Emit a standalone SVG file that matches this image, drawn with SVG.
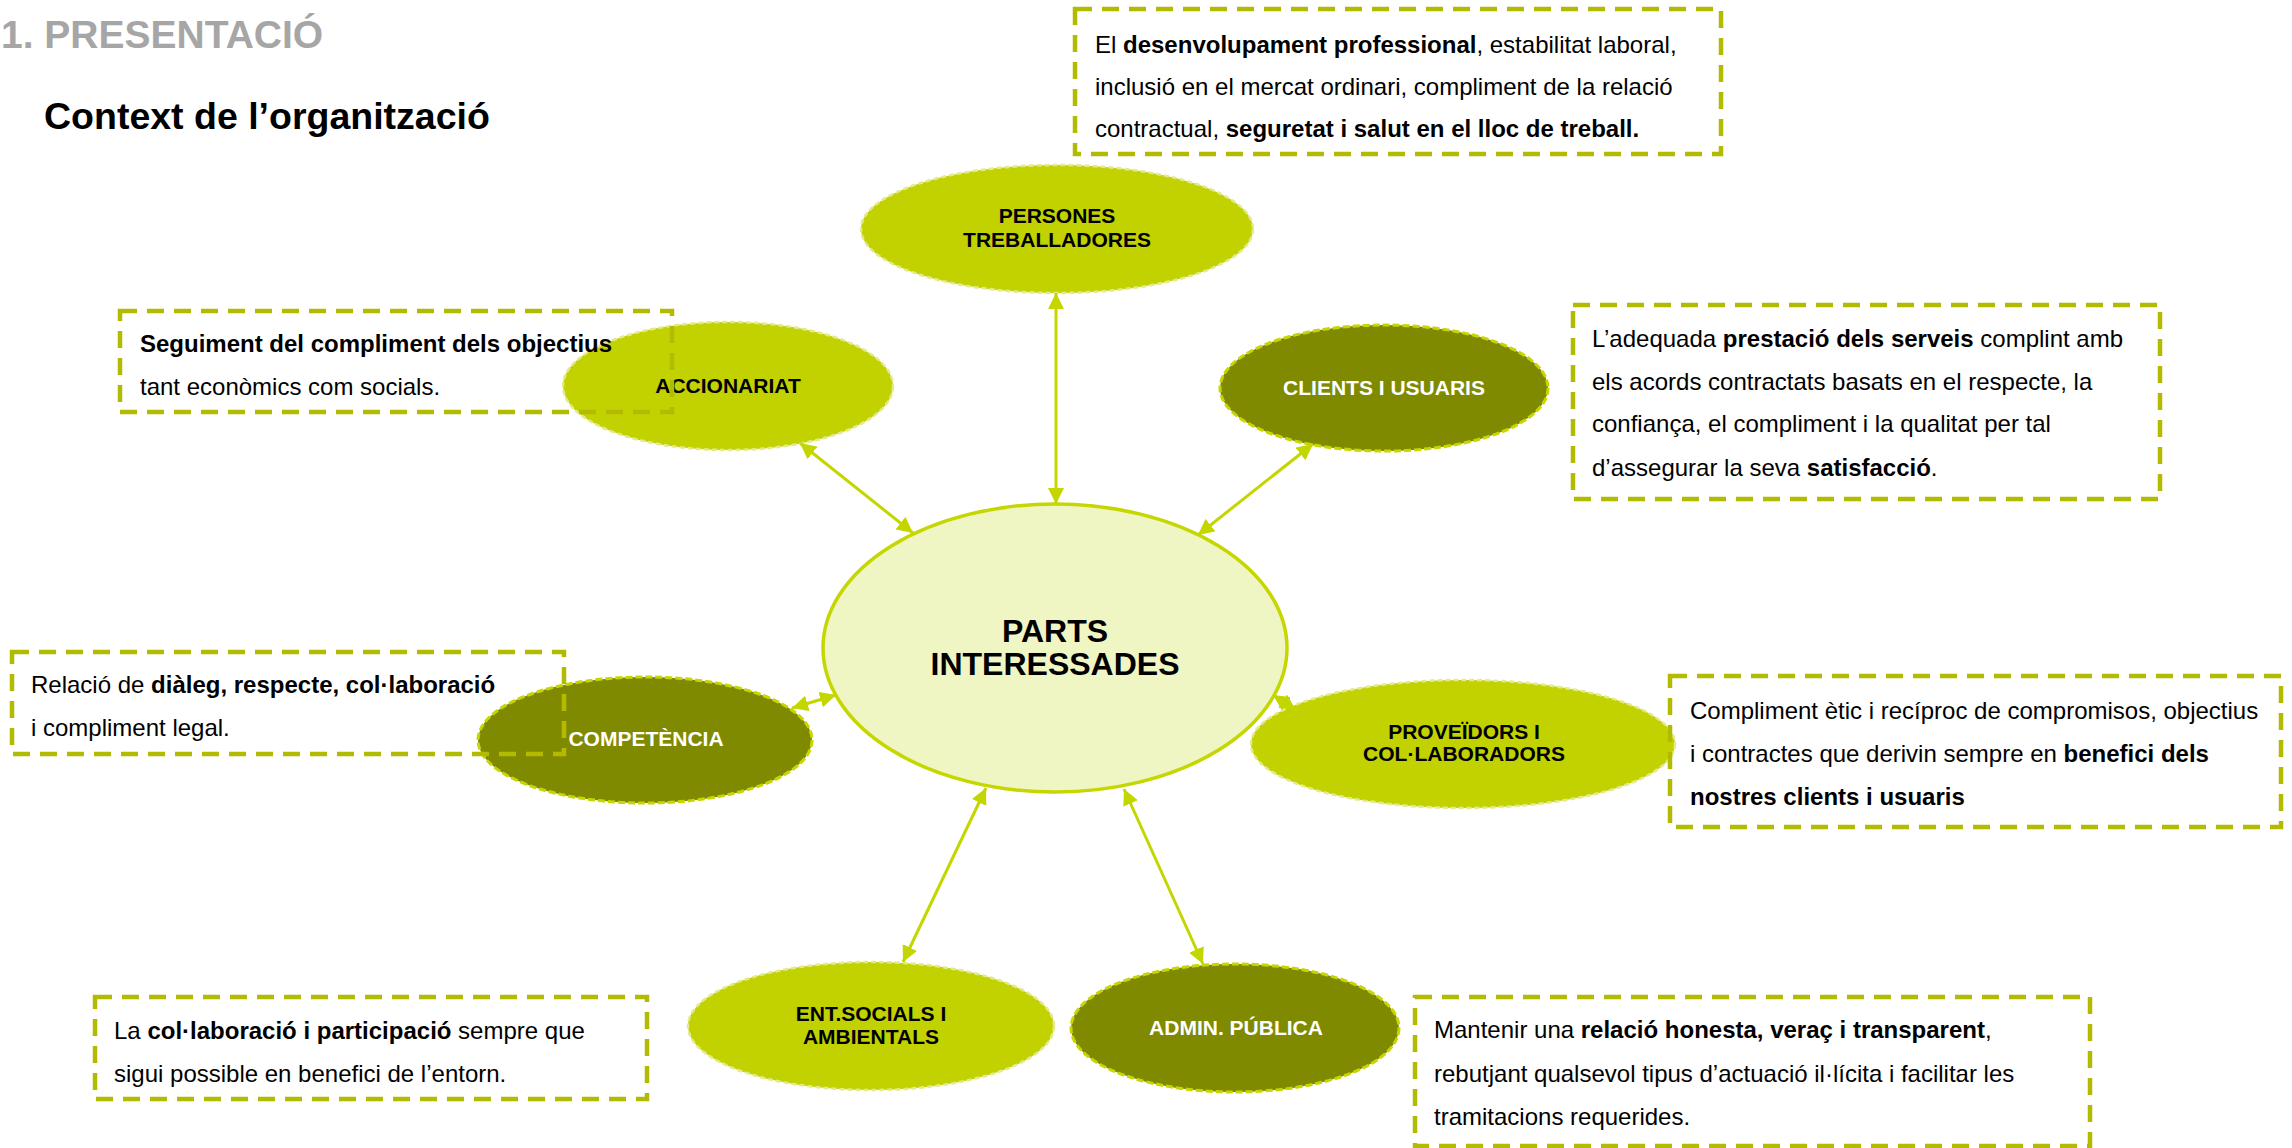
<svg xmlns="http://www.w3.org/2000/svg" width="2292" height="1148" viewBox="0 0 2292 1148">
<defs>
<style>
text{font-family:"Liberation Sans",Arial,sans-serif}
.title{font-size:39px;font-weight:bold;fill:#a6a6a6}
.sub{font-size:37.5px;font-weight:bold;fill:#000}
.lt{fill:#c2d100;stroke:#e2ea8a;stroke-width:2.5;stroke-dasharray:5 3}
.dk{fill:#7f8a00;stroke:#c8d600;stroke-width:3;stroke-dasharray:7 3}
.center{fill:#eff5c3;stroke:#c6d600;stroke-width:3.5}
.nl{font-size:21px;font-weight:bold;fill:#000;text-anchor:middle}
.nd{font-size:21px;font-weight:bold;fill:#fff;text-anchor:middle}
.nc{font-size:32px;font-weight:bold;fill:#000;text-anchor:middle}
.box{fill:none;stroke:#b3bb00;stroke-width:4.5;stroke-dasharray:17 10}
.bt{font-size:24px;fill:#000}
.b{font-weight:bold}
.conn{stroke:#c4d600;stroke-width:3;fill:none;marker-start:url(#ah);marker-end:url(#ah)}
</style>
<marker id="ah" markerUnits="userSpaceOnUse" markerWidth="16" markerHeight="16" viewBox="0 0 16 16" refX="16" refY="8" orient="auto-start-reverse">
<path d="M0,0 L16,8 L0,16 z" fill="#c4d600"/>
</marker>
</defs>
<rect width="2292" height="1148" fill="#fff"/>
<text class="title" x="1" y="48">1. PRESENTACIÓ</text>
<text class="sub" x="44" y="129">Context de l’organització</text>

<g id="node-parts">
<ellipse class="center" cx="1055" cy="648" rx="232" ry="144"/>
<text class="nc" x="1055" y="642">PARTS</text>
<text class="nc" x="1055" y="675">INTERESSADES</text>
</g>
<g id="node-persones">
<ellipse class="lt" cx="1057" cy="229" rx="196" ry="64"/>
<text class="nl" x="1057" y="223">PERSONES</text>
<text class="nl" x="1057" y="247">TREBALLADORES</text>
</g>
<g id="node-accionariat">
<ellipse class="lt" cx="728" cy="386" rx="165" ry="64"/>
<text class="nl" x="728" y="393">ACCIONARIAT</text>
</g>
<g id="node-clients">
<ellipse class="dk" cx="1384" cy="388" rx="164" ry="63"/>
<text class="nd" x="1384" y="395">CLIENTS I USUARIS</text>
</g>
<g id="node-competencia">
<ellipse class="dk" cx="645" cy="740" rx="167" ry="63"/>
<text class="nd" x="646" y="746">COMPETÈNCIA</text>
</g>
<g id="node-proveidors">
<ellipse class="lt" cx="1463" cy="744" rx="212" ry="64"/>
<text class="nl" x="1464" y="739">PROVEÏDORS I</text>
<text class="nl" x="1464" y="761">COL·LABORADORS</text>
</g>
<g id="node-ent">
<ellipse class="lt" cx="871" cy="1026" rx="183" ry="64"/>
<text class="nl" x="871" y="1021">ENT.SOCIALS I</text>
<text class="nl" x="871" y="1044">AMBIENTALS</text>
</g>
<g id="node-admin">
<ellipse class="dk" cx="1235" cy="1028" rx="164" ry="64"/>
<text class="nd" x="1236" y="1035">ADMIN. PÚBLICA</text>
</g>

<g id="connectors">
<line class="conn" x1="1056" y1="293" x2="1056" y2="504"/>
<line class="conn" x1="800" y1="443" x2="913" y2="533"/>
<line class="conn" x1="1313" y1="444" x2="1198" y2="535"/>
<line class="conn" x1="792" y1="708" x2="836" y2="695"/>
<line class="conn" x1="1273" y1="695" x2="1296" y2="710"/>
<line class="conn" x1="986" y1="788" x2="903" y2="962"/>
<line class="conn" x1="1124" y1="789" x2="1203" y2="964"/>
</g>

<g id="box-persones">
<rect class="box" x="1075" y="9" width="646" height="145"/>
<text class="bt" x="1095" y="53">El <tspan class="b">desenvolupament professional</tspan>, estabilitat laboral,</text>
<text class="bt" x="1095" y="95">inclusió en el mercat ordinari, compliment de la relació</text>
<text class="bt" x="1095" y="137">contractual, <tspan class="b">seguretat i salut en el lloc de treball.</tspan></text>
</g>
<g id="box-accionariat">
<rect class="box" x="120" y="311" width="552" height="101"/>
<text class="bt" x="140" y="352"><tspan class="b">Seguiment del compliment dels objectius</tspan></text>
<text class="bt" x="140" y="395">tant econòmics com socials.</text>
</g>
<g id="box-clients">
<rect class="box" x="1573" y="305" width="587" height="194"/>
<text class="bt" x="1592" y="347">L’adequada <tspan class="b">prestació dels serveis</tspan> complint amb</text>
<text class="bt" x="1592" y="390">els acords contractats basats en el respecte, la</text>
<text class="bt" x="1592" y="432">confiança, el compliment i la qualitat per tal</text>
<text class="bt" x="1592" y="476">d’assegurar la seva <tspan class="b">satisfacció</tspan>.</text>
</g>
<g id="box-competencia">
<rect class="box" x="12" y="652" width="552" height="102"/>
<text class="bt" x="31" y="693">Relació de <tspan class="b">diàleg, respecte, col·laboració</tspan></text>
<text class="bt" x="31" y="736">i compliment legal.</text>
</g>
<g id="box-proveidors">
<rect class="box" x="1670" y="676" width="611" height="151"/>
<text class="bt" x="1690" y="719">Compliment ètic i recíproc de compromisos, objectius</text>
<text class="bt" x="1690" y="762">i contractes que derivin sempre en <tspan class="b">benefici dels</tspan></text>
<text class="bt" x="1690" y="805"><tspan class="b">nostres clients i usuaris</tspan></text>
</g>
<g id="box-ent">
<rect class="box" x="95" y="997" width="552" height="102"/>
<text class="bt" x="114" y="1039">La <tspan class="b">col·laboració i participació</tspan> sempre que</text>
<text class="bt" x="114" y="1082">sigui possible en benefici de l’entorn.</text>
</g>
<g id="box-admin">
<rect class="box" x="1415" y="997" width="675" height="149"/>
<text class="bt" x="1434" y="1038">Mantenir una <tspan class="b">relació honesta, veraç i transparent</tspan>,</text>
<text class="bt" x="1434" y="1082">rebutjant qualsevol tipus d’actuació il·lícita i facilitar les</text>
<text class="bt" x="1434" y="1125">tramitacions requerides.</text>
</g>
</svg>
